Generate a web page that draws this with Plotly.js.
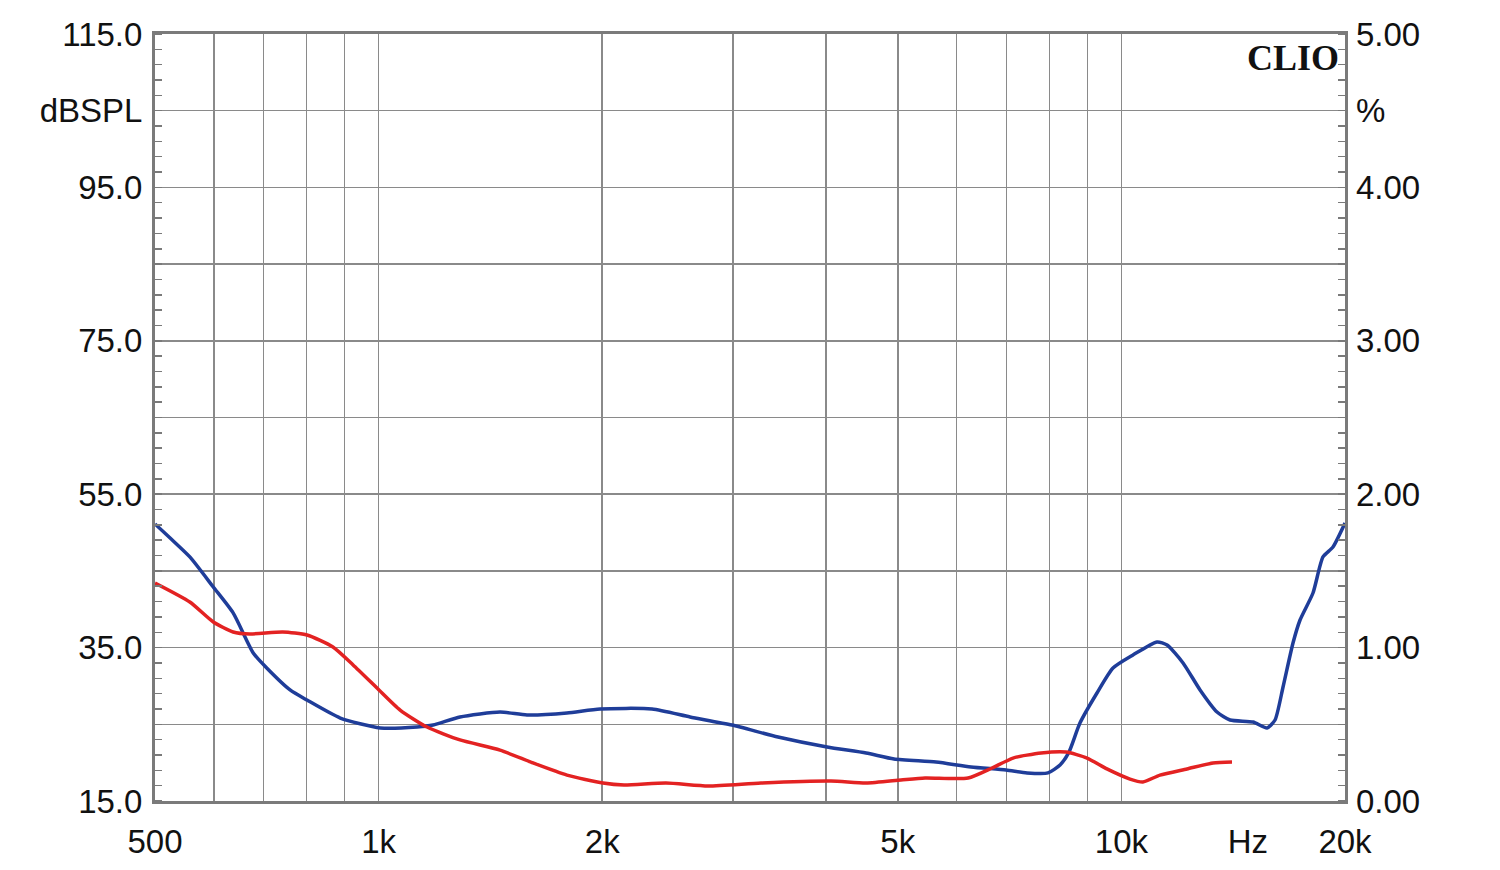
<!DOCTYPE html>
<html>
<head>
<meta charset="utf-8">
<script src="https://cdn.plot.ly/plotly-3.0.1.min.js"></script>
<style>
  html, body { margin: 0; padding: 0; background: #fff; }
  #chart { width: 1500px; height: 870px; }
</style>
</head>
<body>
<div id="chart"></div>
<script>
// ---- Data (frequency in Hz, distortion in %) ----
const blueFreq = [500, 524, 557, 599, 637, 678, 707, 760, 801, 888, 1005, 1127, 1184, 1287, 1457, 1584, 1793, 1987, 2334, 2626, 2990, 3449, 4016, 4532, 4942, 5629, 6274, 6993, 7464, 7964, 8268, 8500, 8794, 9271, 9743, 10365, 11170, 11521, 12106, 12761, 13450, 14005, 15040, 15705, 16100, 16505, 17022, 17398, 18111, 18680, 19268, 20000];
const blueVal  = [1.806, 1.714, 1.591, 1.395, 1.226, 0.965, 0.867, 0.724, 0.658, 0.541, 0.476, 0.482, 0.495, 0.548, 0.580, 0.561, 0.574, 0.600, 0.600, 0.548, 0.495, 0.417, 0.352, 0.313, 0.274, 0.254, 0.222, 0.202, 0.183, 0.183, 0.235, 0.319, 0.508, 0.704, 0.867, 0.952, 1.037, 1.017, 0.900, 0.724, 0.580, 0.528, 0.515, 0.476, 0.528, 0.743, 1.030, 1.180, 1.356, 1.591, 1.656, 1.812];

const redFreq = [500, 557, 599, 637, 671, 743, 801, 868, 924, 995, 1069, 1162, 1287, 1457, 1614, 1793, 2005, 2140, 2437, 2777, 3272, 4065, 4532, 5050, 5441, 6217, 6695, 7147, 7797, 8420, 8989, 9561, 10270, 10690, 11270, 12255, 13283, 14090];
const redVal  = [1.421, 1.297, 1.167, 1.102, 1.089, 1.102, 1.082, 1.004, 0.887, 0.737, 0.593, 0.482, 0.398, 0.332, 0.248, 0.169, 0.117, 0.104, 0.117, 0.098, 0.117, 0.130, 0.117, 0.137, 0.150, 0.150, 0.215, 0.280, 0.313, 0.319, 0.280, 0.209, 0.143, 0.124, 0.169, 0.209, 0.248, 0.254];

// ---- Axis labels ----
const xTickVals  = [500, 1000, 2000, 5000, 10000, 14800, 20000];
const xTickText  = ['500', '1k', '2k', '5k', '10k', 'Hz', '20k'];
const xGridVals  = [600, 700, 800, 900, 1000, 2000, 3000, 4000, 5000, 6000, 7000, 8000, 9000, 10000];
const yLeftVals  = [15, 25, 35, 45, 55, 65, 75, 85, 95, 105, 115];
const yLeftText  = ['15.0', '', '35.0', '', '55.0', '', '75.0', '', '95.0', 'dBSPL', '115.0'];
const yRightVals = [0, 0.5, 1, 1.5, 2, 2.5, 3, 3.5, 4, 4.5, 5];
const yRightText = ['0.00', '', '1.00', '', '2.00', '', '3.00', '', '4.00', '%', '5.00'];

const gridColor = '#8a8a8a';
const frameColor = '#7a7a7a';
const font = {family: 'Liberation Sans, Arial, sans-serif', size: 33, color: '#111'};
const xRange = [Math.log10(500), Math.log10(20000)];

const traces = [
  // axis anchors (no visible marks)
  {x: [], y: [], type: 'scatter', mode: 'lines', xaxis: 'x2', yaxis: 'y', hoverinfo: 'skip'},
  {x: [], y: [], type: 'scatter', mode: 'lines', xaxis: 'x', yaxis: 'y', hoverinfo: 'skip'},
  {x: blueFreq, y: blueVal, type: 'scatter', mode: 'lines', xaxis: 'x', yaxis: 'y2',
   line: {color: '#1f3d99', width: 3.5, shape: 'spline', smoothing: 0.6}, hoverinfo: 'skip'},
  {x: redFreq, y: redVal, type: 'scatter', mode: 'lines', xaxis: 'x', yaxis: 'y2',
   line: {color: '#e32222', width: 3.5, shape: 'spline', smoothing: 0.6}, hoverinfo: 'skip'}
];

const layout = {
  width: 1500, height: 870,
  margin: {l: 155, r: 155, t: 34, b: 69},
  paper_bgcolor: '#fff', plot_bgcolor: '#fff',
  showlegend: false,
  font: font,
  xaxis: {
    type: 'log', range: xRange, tickmode: 'array', tickvals: xTickVals, ticktext: xTickText,
    showgrid: false, zeroline: false, ticks: '', tickfont: font, ticklabelstandoff: 9,
    showline: true, mirror: true, linecolor: frameColor, linewidth: 3
  },
  xaxis2: {
    type: 'log', range: xRange, overlaying: 'x', anchor: 'y', side: 'bottom',
    tickmode: 'array', tickvals: xGridVals, showticklabels: false, ticks: '',
    showgrid: true, gridcolor: gridColor, gridwidth: 1.5, zeroline: false, showline: false
  },
  yaxis: {
    range: [15, 115], tickmode: 'array', tickvals: yLeftVals, ticktext: yLeftText,
    showgrid: true, gridcolor: gridColor, gridwidth: 1.5, zeroline: false, ticks: '',
    tickfont: font, ticklabelstandoff: 3,
    showline: true, mirror: true, linecolor: frameColor, linewidth: 3,
    minor: {tickmode: 'linear', tick0: 15, dtick: 2, ticks: 'inside', ticklen: 7, tickwidth: 1.5, tickcolor: frameColor, showgrid: false}
  },
  yaxis2: {
    range: [0, 5], overlaying: 'y', side: 'right', anchor: 'x',
    tickmode: 'array', tickvals: yRightVals, ticktext: yRightText,
    showgrid: false, zeroline: false, ticks: '', tickfont: font, ticklabelstandoff: 10,
    showline: false,
    minor: {tickmode: 'linear', tick0: 0, dtick: 0.1, ticks: 'inside', ticklen: 7, tickwidth: 1.5, tickcolor: frameColor, showgrid: false}
  },
  annotations: [{
    xref: 'paper', yref: 'paper', x: 0.997, y: 0.997, xanchor: 'right', yanchor: 'top',
    text: '<b>CLIO</b>', showarrow: false,
    font: {family: 'Liberation Serif, Times New Roman, serif', size: 36, color: '#111'}
  }]
};

Plotly.newPlot('chart', traces, layout, {staticPlot: true, displayModeBar: false});
</script>
</body>
</html>
